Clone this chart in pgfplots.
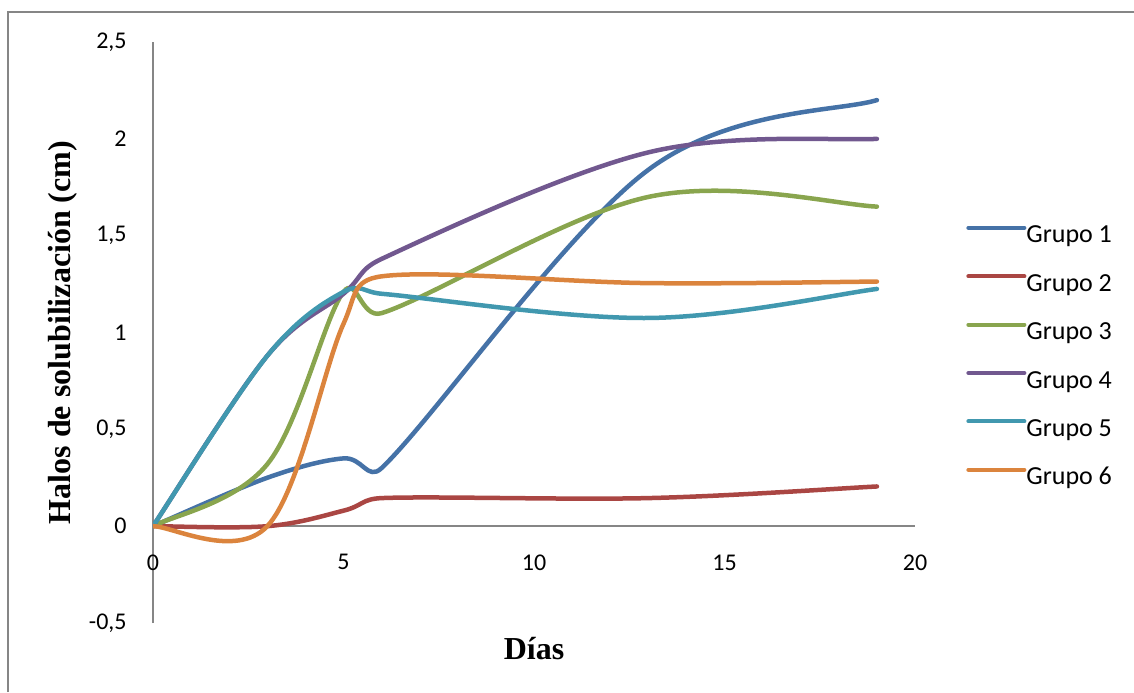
\documentclass[border=0pt]{standalone}
\usepackage{pgfplots}
\pgfplotsset{compat=1.18}
\usepackage{fontspec}
\setmainfont{Carlito}
\newfontfamily\tnr{Liberation Serif}
\definecolor{gA}{HTML}{4572A7}
\definecolor{gB}{HTML}{AA4643}
\definecolor{gC}{HTML}{89A54E}
\definecolor{gD}{HTML}{71588F}
\definecolor{gE}{HTML}{4198AF}
\definecolor{gF}{HTML}{DB843D}
\definecolor{axgray}{RGB}{134,134,134}
% Spreadsheet-style smoothing: Bezier segments, tangent (next-prev)/6,
% each control arm capped at half of its segment length.
\makeatletter
\newcount\ex@n \newcount\ex@i \newcount\ex@j \newcount\ex@p \newcount\ex@q
\def\pgfplothandlerexcel{%
  \def\pgf@plotstreamstart{%
    \global\ex@n=0
    \global\let\pgf@plotstreampoint=\ex@handle@point
    \global\let\pgf@plotstreamspecial=\pgfutil@gobble
    \global\let\pgf@plotstreamend=\ex@handle@end
  }%
}
\def\ex@handle@point#1{%
  \pgf@process{#1}%
  \global\advance\ex@n by 1
  \expandafter\xdef\csname ex@x\the\ex@n\endcsname{\pgf@sys@tonumber\pgf@x}%
  \expandafter\xdef\csname ex@y\the\ex@n\endcsname{\pgf@sys@tonumber\pgf@y}%
}
\def\ex@X#1{\csname ex@x\number#1\endcsname}
\def\ex@Y#1{\csname ex@y\number#1\endcsname}
\def\ex@segment{%
  \ex@j=\ex@i \advance\ex@j by 1
  \ex@p=\ex@i \ifnum\ex@p>1 \advance\ex@p by -1 \fi
  \ex@q=\ex@j \ifnum\ex@q<\ex@n \advance\ex@q by 1 \fi
  \edef\ex@xi{\ex@X\ex@i}\edef\ex@yi{\ex@Y\ex@i}%
  \edef\ex@xj{\ex@X\ex@j}\edef\ex@yj{\ex@Y\ex@j}%
  \edef\ex@xp{\ex@X\ex@p}\edef\ex@yp{\ex@Y\ex@p}%
  \edef\ex@xq{\ex@X\ex@q}\edef\ex@yq{\ex@Y\ex@q}%
  \pgfmathsetmacro\ex@seg{veclen((\ex@xj)-(\ex@xi),(\ex@yj)-(\ex@yi))}%
  \pgfmathsetmacro\ex@dx{(\ex@xj)-(\ex@xp)}%
  \pgfmathsetmacro\ex@dy{(\ex@yj)-(\ex@yp)}%
  \pgfmathsetmacro\ex@dl{max(veclen(\ex@dx,\ex@dy),0.0001)}%
  \pgfmathsetmacro\ex@L{min(\ex@dl/6,\ex@seg/2)/\ex@dl}%
  \pgfmathsetmacro\ex@cax{(\ex@xi)+\ex@L*(\ex@dx)}%
  \pgfmathsetmacro\ex@cay{(\ex@yi)+\ex@L*(\ex@dy)}%
  \pgfmathsetmacro\ex@dx{(\ex@xq)-(\ex@xi)}%
  \pgfmathsetmacro\ex@dy{(\ex@yq)-(\ex@yi)}%
  \pgfmathsetmacro\ex@dl{max(veclen(\ex@dx,\ex@dy),0.0001)}%
  \pgfmathsetmacro\ex@L{min(\ex@dl/6,\ex@seg/2)/\ex@dl}%
  \pgfmathsetmacro\ex@cbx{(\ex@xj)-\ex@L*(\ex@dx)}%
  \pgfmathsetmacro\ex@cby{(\ex@yj)-\ex@L*(\ex@dy)}%
  \pgfpathcurveto{\pgfqpoint{\ex@cax pt}{\ex@cay pt}}%
    {\pgfqpoint{\ex@cbx pt}{\ex@cby pt}}%
    {\pgfqpoint{\ex@xj pt}{\ex@yj pt}}%
}
\def\ex@handle@end{%
  \ifnum\ex@n>0
    \pgf@plot@first@action{\pgfqpoint{\ex@X{1}pt}{\ex@Y{1}pt}}%
    \ex@i=1
    \loop\ifnum\ex@i<\ex@n
      \ex@segment
      \advance\ex@i by 1
    \repeat
  \fi
}
\tikzset{excel smooth/.code={\let\tikz@plot@handler=\pgfplothandlerexcel}}
\makeatother
\begin{document}
\begin{tikzpicture}
\useasboundingbox (0,0) rectangle (567pt,346pt);
\draw[axgray, line width=1pt] (3.75pt,0) -- (3.75pt,340pt) -- (567pt,340pt);
\begin{axis}[
  at={(76.5pt,34.5pt)}, anchor=south west,
  scale only axis, width=381pt, height=290.5pt,
  xmin=0, xmax=20, ymin=-0.5, ymax=2.5,
  axis x line=middle, axis y line=left,
  x axis line style={-, axgray, line width=1pt},
  y axis line style={-, axgray, line width=1pt},
  hide obscured x ticks=false, hide obscured y ticks=false,
  xtick={0,5,10,15,20},
  xticklabels={0,5,10,15,20},
  ytick={-0.5,0,0.5,1,1.5,2,2.5},
  yticklabels={{-0,5},{0},{0,5},{1},{1,5},{2},{2,5}},
  major tick length=0pt,
  tick label style={font=\fontsize{12}{14}\selectfont, inner sep=0pt},
  yticklabel style={anchor=east, xshift=-13pt},
  xticklabel style={anchor=north, yshift=-14pt},
  xlabel={Días},
  ylabel={Halos de solubilización (cm)},
  every axis x label/.style={at={(axis description cs:0.5,-0.04475)}, anchor=center, font=\tnr\bfseries\fontsize{16}{18}\selectfont},
  every axis y label/.style={at={(axis description cs:-0.1181,0.5)}, anchor=center, rotate=90, font=\tnr\bfseries\fontsize{16}{18}\selectfont},
  legend style={draw=none, fill=none, inner sep=0pt, at={(1.0669,0.686)}, anchor=north west,
    font=\fontsize{13}{15}\selectfont, row sep=12.2pt,
    nodes={inner sep=0pt, text height=9pt, text depth=3pt}},
  legend cell align=left,
  legend image code/.code={\draw[#1, line width=2pt, line cap=round] (0pt,4.5pt) -- (28pt,4.5pt);},
  every axis plot/.append style={line width=2.25pt, line join=round, line cap=round, no markers, excel smooth},
]
\addplot[gA] coordinates {(0,0) (3,0.25) (5,0.35) (6,0.30) (13,1.84) (19,2.20)};
\addlegendentry{Grupo 1}
\addplot[gB] coordinates {(0,0) (3,0.0) (5,0.08) (6,0.145) (13,0.145) (19,0.205)};
\addlegendentry{Grupo 2}
\addplot[gC] coordinates {(0,0) (3,0.32) (5,1.21) (6,1.10) (13,1.70) (19,1.65)};
\addlegendentry{Grupo 3}
\addplot[gD] coordinates {(0,0) (3,0.88) (5,1.20) (6,1.38) (13,1.93) (19,2.00)};
\addlegendentry{Grupo 4}
\addplot[gE] coordinates {(0,0) (3,0.88) (5,1.21) (6,1.20) (13,1.075) (19,1.225)};
\addlegendentry{Grupo 5}
\addplot[gF] coordinates {(0,0) (3,0.0) (5,1.045) (6,1.29) (13,1.255) (19,1.263)};
\addlegendentry{Grupo 6}
\end{axis}
\end{tikzpicture}
\end{document}
